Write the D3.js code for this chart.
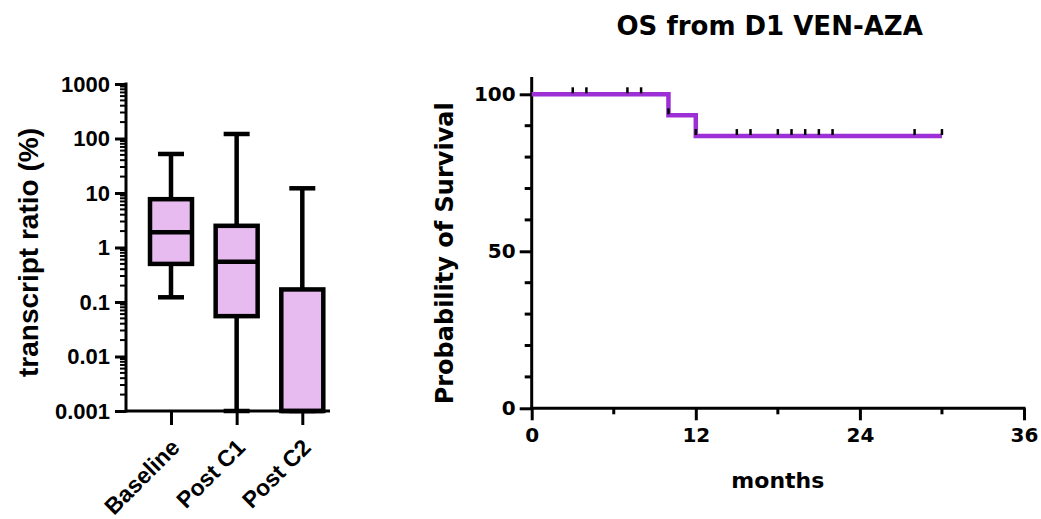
<!DOCTYPE html>
<html>
<head>
<meta charset="utf-8">
<script src="https://cdn.jsdelivr.net/npm/d3@7"></script>
<style>
  html, body { margin: 0; padding: 0; background: #ffffff; }
  svg { display: block; }
</style>
</head>
<body>
<svg id="chart" width="1041" height="519"></svg>
<script>
// ---------- Box plot data (transcript ratio, %) ----------
const categories   = ["Baseline", "Post C1", "Post C2"];
const whiskerLow   = [0.122, 0.001, 0.001];
const q1           = [0.5, 0.055, 0.001];
const median       = [1.9, 0.55, 0.001];
const q3           = [7.7, 2.5, 0.17];
const whiskerHigh  = [52, 121, 12.2];
const logTickValues = [0.001, 0.01, 0.1, 1, 10, 100, 1000];
const logTickLabels = ["0.001", "0.01", "0.1", "1", "10", "100", "1000"];

// ---------- Kaplan-Meier data ----------
const kmTimes      = [0, 10, 12, 30];
const kmSurvival   = [100, 93.3, 86.7, 86.7];
const censorTimes  = [3, 4, 7, 8, 10, 12, 15, 16, 18, 19, 20, 21, 22, 28, 30];
const kmXMajor     = [0, 12, 24, 36];
const kmXMinor     = [6, 18, 30];
const kmYMajor     = [0, 50, 100];
const kmYMinor     = [10, 20, 30, 40, 60, 70, 80, 90];
const kmTitle      = "OS from D1 VEN-AZA";

const svg = d3.select("#chart");
const black = "#000000";
const boxFill = "#e7baf0";
const kmColor = "#9c2fd6";

// ================= LEFT PANEL: box plot =================
(function () {
  const font = "'Liberation Sans', Arial, Helvetica, sans-serif";
  const axisX = 126, axisRight = 330, top = 84, bottom = 411;
  const g = svg.append("g");

  const y = d3.scaleLog().domain([0.001, 1000]).range([bottom, top]);
  const x = d3.scalePoint().domain(categories).range([171, 302.3]);
  const boxW = 42, capW = 26;

  // minor ticks
  const minor = [];
  for (let e = -3; e < 3; e++) for (let m = 2; m <= 9; m++) minor.push(m * Math.pow(10, e));
  g.selectAll("line.minor").data(minor).join("line")
    .attr("x1", axisX - 6).attr("x2", axisX)
    .attr("y1", d => y(d)).attr("y2", d => y(d))
    .attr("stroke", black).attr("stroke-width", 2);

  // y axis
  const yAxis = d3.axisLeft(y).tickValues(logTickValues)
    .tickFormat((d, i) => logTickLabels[i]).tickSize(11).tickSizeOuter(0).tickPadding(5);
  const ya = g.append("g").attr("transform", `translate(${axisX},0)`).call(yAxis);
  ya.select(".domain").remove();
  ya.selectAll(".tick line").attr("stroke", black).attr("stroke-width", 3);
  ya.selectAll(".tick text").attr("fill", black)
    .style("font-family", font).style("font-weight", "bold").style("font-size", "22px");
  g.append("line").attr("x1", axisX).attr("x2", axisX)
    .attr("y1", y(1000) - 1.5).attr("y2", bottom + 1.5)
    .attr("stroke", black).attr("stroke-width", 3);

  // x axis
  const xAxis = d3.axisBottom(x).tickSize(14).tickSizeOuter(0).tickFormat("");
  const xa = g.append("g").attr("transform", `translate(0,${bottom})`).call(xAxis);
  xa.select(".domain").remove();
  xa.selectAll(".tick line").attr("stroke", black).attr("stroke-width", 3);
  g.append("line").attr("x1", axisX).attr("x2", axisRight)
    .attr("y1", bottom).attr("y2", bottom)
    .attr("stroke", black).attr("stroke-width", 3);

  // category labels rotated -45
  g.selectAll("text.cat").data(categories).join("text")
    .attr("transform", d => `translate(${x(d) + 10},${bottom + 38}) rotate(-45)`)
    .attr("text-anchor", "end")
    .style("font-family", font).style("font-weight", "bold").style("font-size", "23px")
    .attr("fill", black).text(d => d);

  // y label
  g.append("text")
    .attr("transform", `translate(38,252.5) rotate(-90)`)
    .attr("text-anchor", "middle")
    .style("font-family", font).style("font-weight", "bold").style("font-size", "28px")
    .attr("fill", black).text("transcript ratio (%)");

  // boxes
  categories.forEach((c, i) => {
    const cx = x(c);
    const sw = 4.5;
    g.append("line").attr("x1", cx).attr("x2", cx)
      .attr("y1", y(whiskerHigh[i])).attr("y2", y(q3[i]))
      .attr("stroke", black).attr("stroke-width", sw);
    g.append("line").attr("x1", cx).attr("x2", cx)
      .attr("y1", y(q1[i])).attr("y2", y(whiskerLow[i]))
      .attr("stroke", black).attr("stroke-width", sw);
    g.append("line").attr("x1", cx - capW / 2).attr("x2", cx + capW / 2)
      .attr("y1", y(whiskerHigh[i])).attr("y2", y(whiskerHigh[i]))
      .attr("stroke", black).attr("stroke-width", sw);
    g.append("line").attr("x1", cx - capW / 2).attr("x2", cx + capW / 2)
      .attr("y1", y(whiskerLow[i])).attr("y2", y(whiskerLow[i]))
      .attr("stroke", black).attr("stroke-width", sw);
    g.append("rect").attr("x", cx - boxW / 2).attr("width", boxW)
      .attr("y", y(q3[i])).attr("height", Math.max(0, y(q1[i]) - y(q3[i])))
      .attr("fill", boxFill).attr("stroke", black).attr("stroke-width", sw);
    g.append("line").attr("x1", cx - boxW / 2).attr("x2", cx + boxW / 2)
      .attr("y1", y(median[i])).attr("y2", y(median[i]))
      .attr("stroke", black).attr("stroke-width", sw);
  });
})();

// ================= RIGHT PANEL: Kaplan-Meier =================
(function () {
  const font = "'DejaVu Sans', Verdana, sans-serif";
  const g = svg.append("g");
  const x = d3.scaleLinear().domain([0, 36]).range([531.7, 1024]);
  const y = d3.scaleLinear().domain([0, 100]).range([408.3, 94.3]);

  g.append("text").attr("x", x(17.4)).attr("y", 35)
    .attr("text-anchor", "middle")
    .style("font-family", font).style("font-weight", "bold").style("font-size", "26px")
    .attr("fill", black).text(kmTitle);

  const ya = g.append("g").attr("transform", `translate(${x(0)},0)`)
    .call(d3.axisLeft(y).tickValues(kmYMajor).tickSize(12).tickSizeOuter(0).tickPadding(4));
  ya.select(".domain").remove();
  ya.selectAll(".tick line").attr("stroke", black).attr("stroke-width", 3);
  ya.selectAll(".tick text").attr("fill", black)
    .style("font-family", font).style("font-weight", "bold").style("font-size", "20px");
  g.selectAll("line.ymin").data(kmYMinor).join("line")
    .attr("x1", x(0) - 7).attr("x2", x(0))
    .attr("y1", d => y(d)).attr("y2", d => y(d))
    .attr("stroke", black).attr("stroke-width", 3);
  g.append("line").attr("x1", x(0)).attr("x2", x(0))
    .attr("y1", y(105.5)).attr("y2", y(0))
    .attr("stroke", black).attr("stroke-width", 3);

  const xa = g.append("g").attr("transform", `translate(0,${y(0)})`)
    .call(d3.axisBottom(x).tickValues(kmXMajor).tickSize(12).tickSizeOuter(0).tickPadding(8));
  xa.select(".domain").remove();
  xa.selectAll(".tick line").attr("stroke", black).attr("stroke-width", 3);
  xa.selectAll(".tick text").attr("fill", black)
    .style("font-family", font).style("font-weight", "bold").style("font-size", "20px");
  g.selectAll("line.xmin").data(kmXMinor).join("line")
    .attr("x1", d => x(d)).attr("x2", d => x(d))
    .attr("y1", y(0)).attr("y2", y(0) + 6)
    .attr("stroke", black).attr("stroke-width", 3);
  g.append("line").attr("x1", x(0) - 1.5).attr("x2", x(36) + 1.5)
    .attr("y1", y(0)).attr("y2", y(0))
    .attr("stroke", black).attr("stroke-width", 3);

  g.append("text").attr("x", x(18)).attr("y", 488)
    .attr("text-anchor", "middle")
    .style("font-family", font).style("font-weight", "bold").style("font-size", "22px")
    .attr("fill", black).text("months");
  g.append("text").attr("transform", `translate(453,${y(50) + 2}) rotate(-90)`)
    .attr("text-anchor", "middle")
    .style("font-family", font).style("font-weight", "bold").style("font-size", "24px")
    .attr("fill", black).text("Probability of Survival");

  const pts = kmTimes.map((t, i) => [t, kmSurvival[i]]);
  const line = d3.line().x(d => x(d[0])).y(d => y(d[1])).curve(d3.curveStepAfter);
  g.append("path").attr("d", line(pts))
    .attr("fill", "none").attr("stroke", kmColor).attr("stroke-width", 4.5);

  const survAt = t => {
    let s = kmSurvival[0];
    kmTimes.forEach((kt, i) => { if (kt <= t) s = kmSurvival[i]; });
    return s;
  };
  g.selectAll("line.cens").data(censorTimes).join("line")
    .attr("x1", d => x(d)).attr("x2", d => x(d))
    .attr("y1", d => y(survAt(d)) - 7).attr("y2", d => y(survAt(d)) - 1)
    .attr("stroke", black).attr("stroke-width", 2.5);
})();
</script>
</body>
</html>
